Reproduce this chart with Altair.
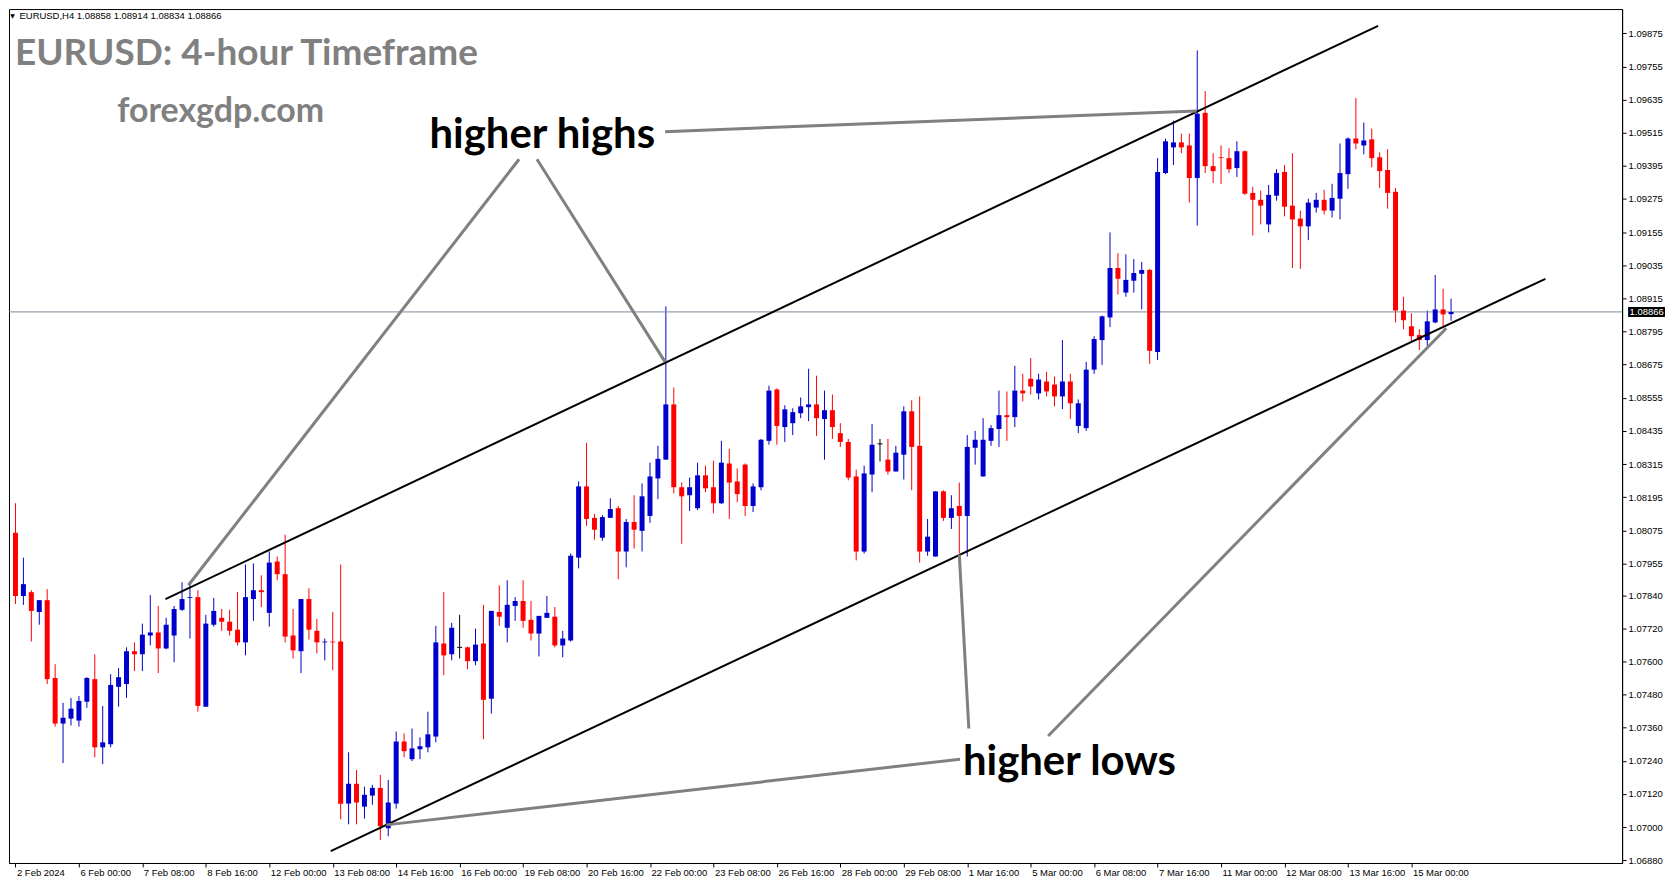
import json
import altair as alt
import pandas as pd

# ---------------- data (EURUSD H4, one value per bar) ----------------
open_ = [1.08066,1.07837,1.07851,1.07779,1.07822,1.07540,1.07375,1.07393,1.07386,1.07454,
         1.07536,1.07289,1.07300,1.07508,1.07518,1.07637,1.07626,1.07694,1.07705,1.07647,
         1.07694,1.07787,1.07830,1.07833,1.07436,1.07733,1.07758,1.07744,1.07715,1.07669,
         1.07826,1.07858,1.07776,1.07962,1.07916,1.07694,1.07637,1.07826,1.07711,1.07669,
         1.07672,1.07672,1.07085,1.07157,1.07074,1.07114,1.07142,1.06996,1.07085,1.07310,
         1.07246,1.07282,1.07289,1.07328,1.07665,1.07626,1.07651,1.07651,1.07601,1.07665,
         1.07465,1.07779,1.07722,1.07801,1.07819,1.07751,1.07701,1.07758,1.07762,1.07658,
         1.07676,1.07976,1.08234,1.08120,1.08048,1.08120,1.08155,1.07998,1.08105,1.08073,
         1.08127,1.08263,1.08331,1.08531,1.08231,1.08202,1.08155,1.08274,1.08231,1.08173,
         1.08317,1.08252,1.08313,1.08163,1.08231,1.08399,1.08585,1.08449,1.08463,1.08499,
         1.08521,1.08531,1.08478,1.08510,1.08427,1.08395,1.08270,1.07998,1.08277,1.08388,
         1.08331,1.08288,1.08349,1.08506,1.08381,1.07998,1.07980,1.08216,1.08120,1.08163,
         1.08127,1.08374,1.08270,1.08399,1.08442,1.08492,1.08485,1.08581,1.08624,1.08571,
         1.08614,1.08603,1.08560,1.08614,1.08453,1.08445,1.08657,1.08764,1.08846,1.09025,
         1.08936,1.08979,1.09004,1.09018,1.08721,1.09369,1.09462,1.09480,1.09469,1.09351,
         1.09587,1.09394,1.09426,1.09423,1.09387,1.09448,1.09297,1.09272,1.09183,1.09287,
         1.09373,1.09251,1.09204,1.09176,1.09244,1.09272,1.09233,1.09276,1.09365,1.09494,
         1.09469,1.09491,1.09426,1.09380,1.09301,1.08871,1.08814,1.08782,1.08764,1.08828,
         1.08875,1.08858]
high = [1.08173,1.07976,1.07858,1.07822,1.07862,1.07590,1.07450,1.07468,1.07475,1.07543,
        1.07626,1.07439,1.07554,1.07576,1.07651,1.07669,1.07737,1.07840,1.07801,1.07758,
        1.07801,1.07887,1.07890,1.07858,1.07769,1.07830,1.07790,1.07787,1.07851,1.07951,
        1.07955,1.07912,1.07998,1.07980,1.08059,1.07790,1.07826,1.07865,1.07754,1.07683,
        1.07779,1.07951,1.07271,1.07207,1.07146,1.07153,1.07189,1.07171,1.07346,1.07339,
        1.07357,1.07325,1.07418,1.07729,1.07851,1.07740,1.07769,1.07654,1.07719,1.07805,
        1.07783,1.07876,1.07894,1.07833,1.07894,1.07819,1.07765,1.07837,1.07797,1.07711,
        1.07991,1.08252,1.08392,1.08134,1.08130,1.08191,1.08163,1.08116,1.08202,1.08245,
        1.08320,1.08381,1.08886,1.08592,1.08248,1.08266,1.08320,1.08309,1.08327,1.08399,
        1.08370,1.08299,1.08317,1.08245,1.08406,1.08599,1.08589,1.08528,1.08517,1.08556,
        1.08660,1.08635,1.08581,1.08567,1.08463,1.08406,1.08295,1.08309,1.08460,1.08406,
        1.08406,1.08381,1.08524,1.08546,1.08560,1.08116,1.08216,1.08220,1.08202,1.08248,
        1.08420,1.08435,1.08481,1.08456,1.08581,1.08578,1.08671,1.08642,1.08699,1.08642,
        1.08649,1.08632,1.08764,1.08642,1.08549,1.08685,1.08778,1.08853,1.09154,1.09079,
        1.09075,1.09057,1.09047,1.09022,1.09423,1.09494,1.09559,1.09512,1.09512,1.09813,
        1.09666,1.09441,1.09469,1.09459,1.09484,1.09451,1.09319,1.09305,1.09326,1.09383,
        1.09398,1.09441,1.09233,1.09276,1.09297,1.09308,1.09330,1.09476,1.09498,1.09641,
        1.09552,1.09530,1.09444,1.09455,1.09315,1.08921,1.08861,1.08803,1.08871,1.09000,
        1.08950,1.08914]
low = [1.07808,1.07805,1.07672,1.07733,1.07518,1.07364,1.07232,1.07368,1.07364,1.07432,
       1.07253,1.07228,1.07289,1.07436,1.07468,1.07565,1.07565,1.07658,1.07558,1.07644,
       1.07597,1.07783,1.07683,1.07418,1.07436,1.07726,1.07711,1.07694,1.07658,1.07622,
       1.07747,1.07797,1.07726,1.07894,1.07669,1.07611,1.07558,1.07679,1.07629,1.07604,
       1.07568,1.07028,1.07010,1.07010,1.07031,1.07081,1.06953,1.06967,1.07067,1.07253,
       1.07239,1.07246,1.07271,1.07307,1.07550,1.07604,1.07611,1.07572,1.07586,1.07318,
       1.07411,1.07729,1.07669,1.07747,1.07722,1.07676,1.07618,1.07758,1.07651,1.07615,
       1.07672,1.07937,1.08091,1.08041,1.08037,1.08120,1.07898,1.07941,1.08009,1.07998,
       1.08102,1.08188,1.08331,1.08209,1.08026,1.08145,1.08148,1.08213,1.08137,1.08170,
       1.08116,1.08177,1.08127,1.08141,1.08220,1.08385,1.08385,1.08395,1.08420,1.08481,
       1.08470,1.08417,1.08331,1.08406,1.08377,1.08256,1.07966,1.07991,1.08213,1.08324,
       1.08277,1.08288,1.08259,1.08220,1.07958,1.07983,1.07980,1.08109,1.08080,1.07991,
       1.07980,1.08313,1.08270,1.08381,1.08377,1.08399,1.08449,1.08542,1.08567,1.08549,
       1.08560,1.08524,1.08514,1.08478,1.08427,1.08435,1.08642,1.08674,1.08811,1.08929,
       1.08921,1.08936,1.08875,1.08678,1.08692,1.09365,1.09398,1.09441,1.09262,1.09179,
       1.09369,1.09333,1.09330,1.09369,1.09355,1.09290,1.09143,1.09183,1.09154,1.09269,
       1.09212,1.09025,1.09022,1.09126,1.09226,1.09219,1.09208,1.09201,1.09312,1.09455,
       1.09437,1.09390,1.09315,1.09240,1.08828,1.08803,1.08757,1.08728,1.08743,1.08825,
       1.08807,1.08834]
close = [1.07837,1.07880,1.07783,1.07822,1.07536,1.07375,1.07396,1.07429,1.07457,1.07540,
         1.07289,1.07307,1.07515,1.07543,1.07637,1.07626,1.07697,1.07705,1.07647,1.07733,
         1.07790,1.07826,1.07833,1.07439,1.07737,1.07783,1.07744,1.07711,1.07669,1.07833,
         1.07858,1.07851,1.07958,1.07916,1.07690,1.07640,1.07826,1.07715,1.07669,1.07672,
         1.07669,1.07085,1.07157,1.07089,1.07117,1.07142,1.07003,1.07089,1.07310,1.07275,
         1.07285,1.07293,1.07336,1.07669,1.07622,1.07722,1.07651,1.07601,1.07661,1.07461,
         1.07783,1.07762,1.07805,1.07819,1.07747,1.07701,1.07765,1.07776,1.07658,1.07683,
         1.07983,1.08234,1.08116,1.08077,1.08123,1.08152,1.07998,1.08105,1.08077,1.08198,
         1.08270,1.08334,1.08531,1.08231,1.08198,1.08231,1.08274,1.08227,1.08173,1.08320,
         1.08248,1.08206,1.08163,1.08234,1.08403,1.08581,1.08453,1.08513,1.08503,1.08524,
         1.08531,1.08481,1.08510,1.08449,1.08395,1.08266,1.07998,1.08281,1.08385,1.08388,
         1.08288,1.08356,1.08506,1.08377,1.07998,1.08052,1.08216,1.08120,1.08155,1.08127,
         1.08377,1.08403,1.08403,1.08445,1.08492,1.08485,1.08581,1.08571,1.08596,1.08621,
         1.08578,1.08560,1.08614,1.08535,1.08535,1.08657,1.08768,1.08850,1.09025,1.08986,
         1.08982,1.09007,1.09018,1.08725,1.09373,1.09484,1.09480,1.09462,1.09351,1.09584,
         1.09394,1.09376,1.09423,1.09383,1.09448,1.09294,1.09272,1.09251,1.09290,1.09369,
         1.09247,1.09201,1.09176,1.09262,1.09272,1.09233,1.09279,1.09369,1.09494,1.09476,
         1.09487,1.09423,1.09376,1.09297,1.08871,1.08836,1.08778,1.08764,1.08832,1.08875,
         1.08857,1.08866]

current_price = 1.08866

# x tick labels (every 8 H4 bars)
x_tick_bars = list(range(0, 177, 8))
x_tick_labels = ["2 Feb 2024", "6 Feb 00:00", "7 Feb 08:00", "8 Feb 16:00", "12 Feb 00:00",
                 "13 Feb 08:00", "14 Feb 16:00", "16 Feb 00:00", "19 Feb 08:00", "20 Feb 16:00",
                 "22 Feb 00:00", "23 Feb 08:00", "26 Feb 16:00", "28 Feb 00:00", "29 Feb 08:00",
                 "1 Mar 16:00", "5 Mar 00:00", "6 Mar 08:00", "7 Mar 16:00", "11 Mar 00:00",
                 "12 Mar 08:00", "13 Mar 16:00", "15 Mar 00:00"]
y_ticks = [1.09875, 1.09755, 1.09635, 1.09515, 1.09395, 1.09275, 1.09155, 1.09035, 1.08915,
           1.08795, 1.08675, 1.08555, 1.08435, 1.08315, 1.08195, 1.08075, 1.07955, 1.07840,
           1.07720, 1.07600, 1.07480, 1.07360, 1.07240, 1.07120, 1.07000, 1.06880]

# trend lines (bar index, price)
channel_x1 = [18.91, 39.75]
channel_y1 = [1.07826, 1.06913]
channel_x2 = [171.8, 192.9]
channel_y2 = [1.09902, 1.08986]

pointer_x1 = [81.9, 63.5, 65.75, 46.75, 119.0, 130.2]
pointer_y1 = [1.09519, 1.09419, 1.09419, 1.07008, 1.07987, 1.07330]
pointer_x2 = [148.9, 21.8, 81.9, 119.1, 120.2, 180.4]
pointer_y2 = [1.09594, 1.07876, 1.08685, 1.07246, 1.07357, 1.08807]

notes = ["higher highs", "higher lows"]
note_x = [52.2, 119.45]
note_y = [1.09459, 1.07190]

header = "EURUSD,H4  1.08858 1.08914 1.08834 1.08866"
title = "EURUSD: 4-hour Timeframe"
site = "forexgdp.com"

# ---------------- chart ----------------
W, H = 1617, 856
df = pd.DataFrame({"i": list(range(len(open_))), "o": open_, "h": high, "l": low, "c": close})
df["dir"] = ["up" if c > o else ("down" if c < o else "doji") for o, c in zip(df.o, df.c)]

xs = alt.Scale(domain=[-0.1875, 201.9375], nice=False, zero=False)
ys = alt.Scale(domain=[1.06870, 1.09963], nice=False, zero=False)
col = alt.Color("dir:N", scale=alt.Scale(domain=["up", "down", "doji"],
                                         range=["#0000CC", "#FF0000", "#000000"]), legend=None)

label_expr = json.dumps(x_tick_labels) + "[round(datum.value / 8)]"
x_axis = alt.Axis(values=x_tick_bars, labelExpr=label_expr, orient="bottom", grid=False,
                  tickSize=4, tickColor="black", domainColor="black", labelColor="black",
                  labelFont="Liberation Sans", labelFontSize=9.5, labelAlign="left",
                  labelOffset=1, labelPadding=1, labelOverlap=False, labelFlush=False, title=None)
y_axis = alt.Axis(values=y_ticks, format=".5f", orient="right", grid=False,
                  tickSize=4, tickColor="black", domainColor="black", labelColor="black",
                  labelFont="Liberation Sans", labelFontSize=9.5, labelPadding=2,
                  labelOverlap=False, labelFlush=False, title=None)


def X(field):
    return alt.X(field, scale=xs, axis=x_axis)


def Y(field):
    return alt.Y(field, scale=ys, axis=y_axis)


base = alt.Chart(df)

wick = base.mark_rule(strokeWidth=1).encode(x=X("i:Q"), y=Y("l:Q"), y2="h:Q", color=col)

price_df = pd.DataFrame({"p": [current_price]})
price_line = alt.Chart(price_df).mark_rule(color="#7A8A9C", strokeWidth=1).encode(y=Y("p:Q"))

body = base.mark_bar(size=5).encode(x=X("i:Q"), y=Y("o:Q"), y2="c:Q", color=col)

doji = base.transform_filter("datum.dir == 'doji'").mark_tick(
    orient="horizontal", size=5, thickness=1, color="black", opacity=1).encode(
    x=X("i:Q"), y=Y("o:Q"))

ch_df = pd.DataFrame({"x1": channel_x1, "y1": channel_y1, "x2": channel_x2, "y2": channel_y2})
channels = alt.Chart(ch_df).mark_rule(color="black", strokeWidth=2).encode(
    x=X("x1:Q"), x2="x2:Q", y=Y("y1:Q"), y2="y2:Q")

pt_df = pd.DataFrame({"x1": pointer_x1, "y1": pointer_y1, "x2": pointer_x2, "y2": pointer_y2})
pointers = alt.Chart(pt_df).mark_rule(color="#808080", strokeWidth=3).encode(
    x=X("x1:Q"), x2="x2:Q", y=Y("y1:Q"), y2="y2:Q")

note_df = pd.DataFrame({"t": notes, "x": note_x, "y": note_y})
note_text = alt.Chart(note_df).mark_text(
    align="left", baseline="alphabetic", font="Lato", fontWeight="bold", fontSize=42,
    color="black").encode(x=X("x:Q"), y=Y("y:Q"), text="t:N")

title_text = alt.Chart(pd.DataFrame({"t": [title]})).mark_text(
    align="left", baseline="alphabetic", font="Lato", fontWeight="bold", fontSize=37,
    color="#808080").encode(x=alt.value(6), y=alt.value(56), text="t:N")
site_text = alt.Chart(pd.DataFrame({"t": [site]})).mark_text(
    align="left", baseline="alphabetic", font="Lato", fontWeight="bold", fontSize=34,
    color="#808080").encode(x=alt.value(108.5), y=alt.value(113.5), text="t:N")
header_text = alt.Chart(pd.DataFrame({"t": [header]})).mark_text(
    align="left", baseline="middle", font="Liberation Sans", fontSize=9.5,
    color="black").encode(x=alt.value(10.5), y=alt.value(6.5), text="t:N")
header_tri = alt.Chart(pd.DataFrame({"t": ["\u25BC"]})).mark_text(
    align="center", baseline="middle", font="DejaVu Sans", fontSize=6,
    color="black").encode(x=alt.value(3.5), y=alt.value(6.5), text="t:N")

box_path = "M-1,-0.27L1,-0.27L1,0.27L-1,0.27Z"
price_box = alt.Chart(price_df).mark_point(
    shape=box_path, size=37 * 37, filled=True, color="black", opacity=1, strokeWidth=0).encode(
    x=alt.value(W + 24.5), y=Y("p:Q"))
price_lbl = alt.Chart(price_df).mark_text(
    align="left", baseline="middle", font="Liberation Sans", fontSize=9.5, color="white").encode(
    x=alt.value(W + 7.5), y=Y("p:Q"), text=alt.Text("p:Q", format=".5f"))

chart = alt.layer(
    wick, price_line, body, doji, channels, pointers, note_text,
    title_text, site_text, header_text, header_tri, price_box, price_lbl
).properties(width=W, height=H, padding=0, background="white").configure_view(
    stroke="black", strokeWidth=1)

chart.save("out.html", embed_options={"renderer": "svg", "actions": False})
